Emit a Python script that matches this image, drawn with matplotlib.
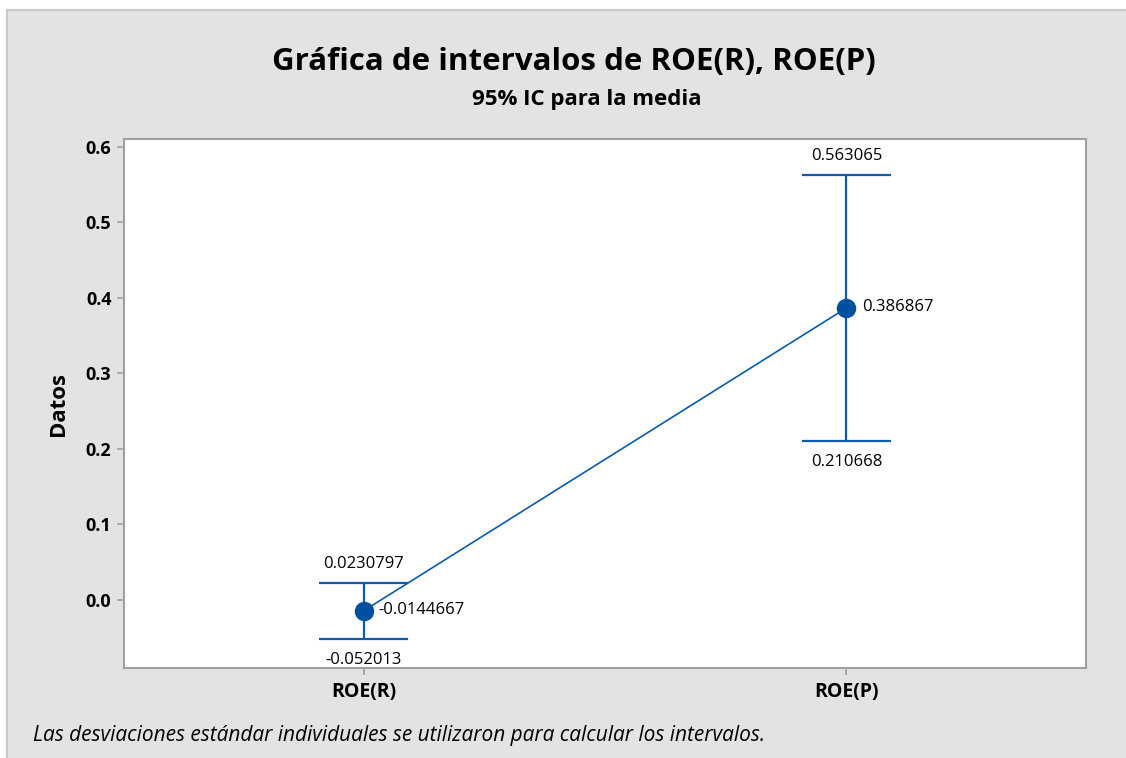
import numpy as np
import matplotlib
matplotlib.use('Agg')
import matplotlib.pyplot as plt
from matplotlib.patches import Rectangle
from matplotlib.lines import Line2D

plt.rcParams['font.family'] = ['Open Sans', 'DejaVu Sans']

categories = ['ROE(R)', 'ROE(P)']
means = [-0.0144667, 0.386867]
lower = [-0.052013, 0.210668]
upper = [0.0230797, 0.563065]
yticks = [0.0, 0.1, 0.2, 0.3, 0.4, 0.5, 0.6]

W, H = 1126, 758
fig = plt.figure(figsize=(W / 100, H / 100), dpi=100)
fig.patch.set_facecolor('white')

# gray panel with a light border on top and left
fig.patches.append(Rectangle((7 / W, 0), 1, 1 - 10 / H, transform=fig.transFigure,
                             facecolor='#e3e3e3', edgecolor='none', zorder=-10))
fig.lines.append(Line2D([7 / W, 1], [1 - 10 / H, 1 - 10 / H], transform=fig.transFigure,
                        color='#c8c8c8', lw=1.5, zorder=-9))
fig.lines.append(Line2D([7 / W, 7 / W], [0, 1 - 10 / H], transform=fig.transFigure,
                        color='#c8c8c8', lw=1.5, zorder=-9))

ax = fig.add_axes([124 / W, 1 - 668 / H, (1086 - 124) / W, (668 - 139) / H])
ax.set_facecolor('white')

blue = '#0a5bab'
x = np.arange(1, len(categories) + 1)
ax.plot(x, means, color=blue, lw=1.2, zorder=2)
ax.vlines(x, lower, upper, color=blue, lw=1.6, zorder=2)
cw = 0.093
ax.hlines(upper, x - cw, x + cw, color=blue, lw=1.6, zorder=2)
ax.hlines(lower, x - cw, x + cw, color=blue, lw=1.6, zorder=2)
ax.plot(x, means, 'o', color='#0050a0', ms=13, zorder=3)

for xi, m, lo, up in zip(x, means, lower, upper):
    ax.annotate(f'{up:g}', (xi, up), xytext=(0, 13.5), textcoords='offset points',
                ha='center', va='center', fontsize=12)
    ax.annotate(f'{lo:g}', (xi, lo), xytext=(0, -15), textcoords='offset points',
                ha='center', va='center', fontsize=12)
    ax.annotate(f'{m:g}', (xi, m), xytext=(11, 0.5), textcoords='offset points',
                ha='left', va='center', fontsize=12)

ax.set_xlim(0.504, 2.496)
ax.set_ylim(-0.0901, 0.6106)
ax.set_xticks(x)
ax.set_xticklabels(categories, fontsize=14, fontweight='bold')
ax.set_yticks(yticks)
ax.set_yticklabels([f'{t:.1f}' for t in yticks], fontsize=13, fontweight='bold')
ax.tick_params(axis='both', colors='#a0a0a0', labelcolor='black', length=5, width=1.2, pad=4)
ax.tick_params(axis='x', pad=5)
for s in ax.spines.values():
    s.set_color('#a0a0a0')
    s.set_linewidth(1.5)
ax.set_ylabel('Datos', fontsize=16, fontweight='bold', labelpad=12)

fig.text(574 / W, 1 - 62 / H, 'Gráfica de intervalos de ROE(R), ROE(P)',
         ha='center', va='center', fontsize=22.5, fontweight='bold')
fig.text(587 / W, 1 - 100 / H, '95% IC para la media',
         ha='center', va='center', fontsize=16, fontweight='bold')
fig.text(33 / W, 1 - 736 / H,
         'Las desviaciones estándar individuales se utilizaron para calcular los intervalos.',
         ha='left', va='center', fontsize=15, style='italic')

fig.savefig('out.png', dpi=100)
